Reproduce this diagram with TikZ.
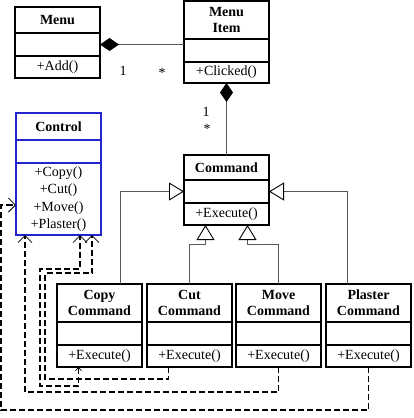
\documentclass[tikz,border=0pt]{standalone}
\usepackage{fontspec}
\setmainfont{Liberation Serif}
\usepackage{tikz}
\usetikzlibrary{arrows.meta}
\usetikzlibrary{calc}
\usetikzlibrary{positioning}
\definecolor{ctrlblue}{RGB}{36,36,204}
\colorlet{linkgray}{black!65}
\tikzstyle{part}=[draw,line width=1.1pt,minimum width=85pt,inner sep=0pt,outer sep=0pt,align=center]
\tikzstyle{head}=[part,font=\fontsize{14}{16}\selectfont\bfseries]
\tikzstyle{gen} =[line width=.9pt,draw=linkgray,-{Triangle[open,length=15pt,width=18pt,black]}]
\tikzstyle{comp}=[line width=.9pt,draw=linkgray,-{Diamond[length=19pt,width=13pt,black]}]
\tikzstyle{dep} =[line width=1.3pt,dash pattern=on 6pt off 3pt,-{Straight Barb[length=7pt,width=14pt,line width=.8pt]}]
\newcommand\umlclass[7][black]{%
  \node[head,draw=#1,minimum height=#5,anchor=north west] (#2) at (#3) {#4};
  \node[part,draw=#1,minimum height=23pt,below=0pt of #2] (#2-attr) {};
  \node[part,draw=#1,minimum height=#7,below=0pt of #2-attr] (#2-ops) {#6};}

\begin{document}
\begin{tikzpicture}[x=1pt,y=-1pt,font=\fontsize{14}{17.5}\selectfont]
	\useasboundingbox (0,0) rectangle (414,418);
	\umlclass{menu}{15,7}{Menu}{26pt}{+Add()}{22pt}
	\umlclass{item}{184,1}{Menu\\Item}{38pt}{+Clicked()}{21pt}
	\umlclass[ctrlblue]{ctrl}{16,113}{Control}{27pt}{+Copy()\\+Cut()\\+Move()\\+Plaster()}{72pt}
	\umlclass{cmd}{184,155}{Command}{25pt}{+Execute()}{22pt}
	\umlclass{copy}{57,284}{Copy\\Command}{38pt}{+Execute()}{22pt}
	\umlclass{cut}{147,284}{Cut\\Command}{38pt}{+Execute()}{22pt}
	\umlclass{move}{236,284}{Move\\Command}{38pt}{+Execute()}{22pt}
	\umlclass{plaster}{326,284}{Plaster\\Command}{38pt}{+Execute()}{22pt}
	% aggregation
	\draw[comp] (item-attr.west |- menu-attr.east) -- (menu-attr.east);
	\draw[comp] (cmd.north) -- (item-ops.south);
	\node (one1)  at (123,71)  {1};
	\node (many1) at (162,73)  {*};
	\node (one2)  at (206,112) {1};
	\node (many2) at (207,129) {*};
	% inheritance
	\draw[gen] ($(copy.north)+(21,0)$) |- (cmd-attr.west);
	\draw[gen] ($(plaster.north)+(-21,0)$) |- (cmd-attr.east);
	\draw[gen] (cut.north) |- ($(cmd-ops.south)+(-21,19)$) -- ($(cmd-ops.south)+(-21,0)$);
	\draw[gen] (move.north) |- ($(cmd-ops.south)+(21,19)$) -- ($(cmd-ops.south)+(21,0)$);
	% calls to the control
	\draw[dep] (plaster-ops.south) |- (1,410) |- ($(ctrl-ops.west)+(0,6)$);
	\draw[dep] (move-ops.south) |- (25,392) -- ($(ctrl-ops.south west)+(9,0)$);
	\draw[dep] ($(cut-ops.south)+(-21,0)$) |- (45,379) |- (92,273) -- ($(ctrl-ops.south west)+(76,0)$);
	\draw[dep,{Straight Barb[length=3pt,width=6pt,line width=.8pt]}-{Straight Barb[length=7pt,width=14pt,line width=.8pt]}]
		($(copy-ops.south)+(-21,0)$) |- (40,386) |- (80,269) -- ($(ctrl-ops.south west)+(64,0)$);
\end{tikzpicture}
\end{document}
